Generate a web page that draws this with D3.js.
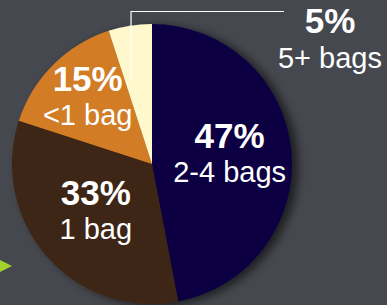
<!DOCTYPE html>
<html>
<head>
<meta charset="utf-8">
<script src="https://cdn.jsdelivr.net/npm/d3@7"></script>
<style>
html,body{margin:0;padding:0;background:#46484f;overflow:hidden;}
svg{display:block;}
text{font-family:"Liberation Sans",Arial,Helvetica,sans-serif;fill:#fff;}
</style>
</head>
<body>
<svg id="chart" width="387" height="305"></svg>
<script>
const categories = ["2-4 bags", "1 bag", "<1 bag", "5+ bags"];
const values = [47, 33, 15, 5];
const pctLabels = ["47%", "33%", "15%", "5%"];
const colors = ["#0b0342", "#3d2512", "#d27b26", "#fff8cc"];

const W = 387, H = 305;
const cx = 152, cy = 164, R = 140;
const svg = d3.select("#chart");

svg.append("rect").attr("width", W).attr("height", H).attr("fill", "#46484f");

const defs = svg.append("defs");
const f = defs.append("filter").attr("id", "shadow").attr("x", "-20%").attr("y", "-20%").attr("width", "140%").attr("height", "140%");
f.append("feDropShadow").attr("dx", 6).attr("dy", 2).attr("stdDeviation", 5)
  .attr("flood-color", "#000").attr("flood-opacity", 0.6);

const data = categories.map((c, i) => ({cat: c, value: values[i], pct: pctLabels[i], color: colors[i]}));
const pie = d3.pie().sort(null).value(d => d.value);
const arcs = pie(data);
const arc = d3.arc().innerRadius(0).outerRadius(R);

const g = svg.append("g").attr("transform", `translate(${cx},${cy})`);
const slices = g.append("g").attr("filter", "url(#shadow)");
slices.selectAll("path").data(arcs).enter().append("path")
  .attr("d", arc).attr("fill", d => d.data.color);

// inside labels
const labelR = [78, 75, 91];
arcs.slice(0, 3).forEach((a, i) => {
  const la = d3.arc().innerRadius(labelR[i]).outerRadius(labelR[i]);
  const [x, y] = la.centroid(a);
  g.append("text").attr("x", x).attr("y", y - 9).attr("text-anchor", "middle")
    .attr("font-size", 35).attr("font-weight", "bold").text(a.data.pct);
  g.append("text").attr("x", x).attr("y", y + 25).attr("text-anchor", "middle")
    .attr("font-size", 29).text(a.data.cat);
});

// external label for the small slice
const small = arcs[3];
const anchorA = small.startAngle + (small.endAngle - small.startAngle) * 0.23;
const anchorR = R * 0.625;
const sx = cx + anchorR * Math.sin(anchorA);
const sy = cy - anchorR * Math.cos(anchorA);
svg.append("path")
  .attr("d", `M${sx},${sy} L${sx},11.5 L284,11.5`)
  .attr("fill", "none").attr("stroke", "#fff").attr("stroke-width", 1.2);
svg.append("text").attr("x", 330).attr("y", 33).attr("text-anchor", "middle")
  .attr("font-size", 35).attr("font-weight", "bold").text(small.data.pct);
svg.append("text").attr("x", 330).attr("y", 68).attr("text-anchor", "middle")
  .attr("font-size", 29).text(small.data.cat);

// green arrow decoration
svg.append("path").attr("d", "M0,260 L12,266 L0,272 Z").attr("fill", "#a4d22c");
</script>
</body>
</html>
